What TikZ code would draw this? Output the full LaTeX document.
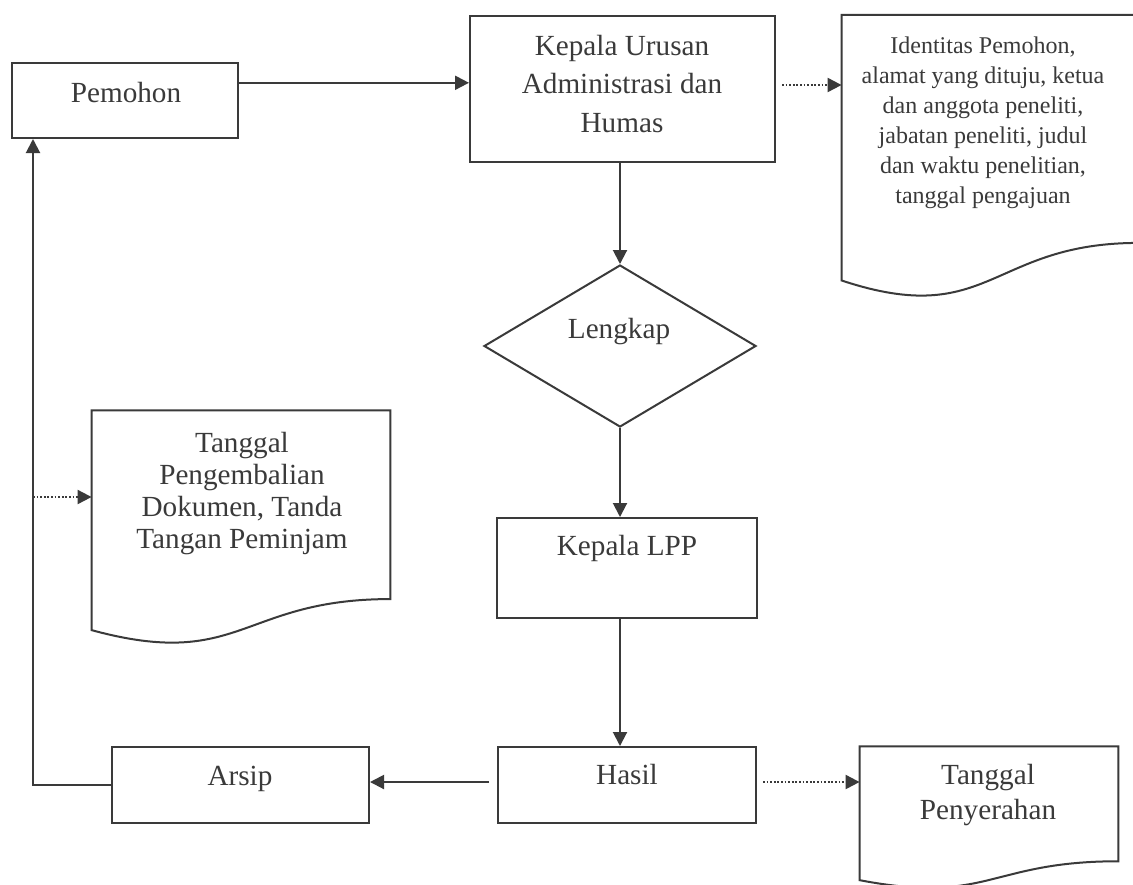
\documentclass[tikz,border=0pt]{standalone}
\usepackage{fontspec}
\setmainfont{Liberation Serif}
\usetikzlibrary{shapes.geometric,arrows.meta,calc}
\definecolor{ink}{HTML}{3A3A3A}
\newcommand{\docshape}[1]{%
  \draw[line] (#1.north west) -- (#1.north east)
    -- ($(#1.north east)!0.802!(#1.south east)$)
    .. controls ($(#1.north)!0.802!(#1.south)$) and ($(#1.north)!1.107!(#1.south)$)
    .. ($(#1.north west)!0.934!(#1.south west)$) -- cycle;}
\begin{document}
\begin{tikzpicture}[x=0.5pt,y=-0.5pt,
  line/.style={draw=ink, line width=1pt, line join=miter},
  box/.style={line, rectangle, inner sep=0pt},
  doc/.style={rectangle, inner sep=0pt, draw=none},
  decision/.style={line, diamond, inner sep=0pt},
  txt/.style={text=ink, inner sep=0pt, anchor=base, align=center, font=\fontsize{14.6}{19.25}\selectfont},
  arr/.style={line, -{Triangle[length=7pt,width=7pt]}},
  dotarr/.style={draw=ink, line width=1pt, dash pattern=on 0.9pt off 0.9pt, -{Triangle[length=7pt,width=7pt]}}]
\fill[white] (0,0) rectangle (1133,884);
\useasboundingbox (0,0) rectangle (1133,884);

\node[box, minimum width=113pt, minimum height=37.5pt] (pemohon) at (125,100.5) {};
\node[box, minimum width=152.5pt, minimum height=73pt] (kepala) at (622.5,89) {};
\node[doc, minimum width=148pt, minimum height=141.85pt] (identitas) at (990,157) {};
\node[decision, minimum width=136pt, minimum height=81pt] (lengkap) at (620,346) {};
\node[box, minimum width=130pt, minimum height=50pt] (lpp) at (627,568) {};
\node[doc, minimum width=149pt, minimum height=117.25pt] (pengembalian) at (241,528) {};
\node[box, minimum width=128.5pt, minimum height=38pt] (arsip) at (240.5,785) {};
\node[box, minimum width=129pt, minimum height=38pt] (hasil) at (627,785) {};
\node[doc, minimum width=129pt, minimum height=71.2pt] (penyerahan) at (989,818) {};
\docshape{identitas}
\docshape{pengembalian}
\docshape{penyerahan}

\node[txt] (pemohon-t) at (126,102) {Pemohon};
\node[txt] (kepala-t) at (622,132) {Kepala Urusan\\Administrasi dan\\Humas};
\node[txt, font=\fontsize{12}{15}\selectfont] (identitas-t) at (983,203) {Identitas Pemohon,\\alamat yang dituju, ketua\\dan anggota peneliti,\\jabatan peneliti, judul\\dan waktu penelitian,\\tanggal pengajuan};
\node[txt] (lengkap-t) at (619,338) {Lengkap};
\node[txt] (lpp-t) at (627,555) {Kepala LPP};
\node[txt, font=\fontsize{14.6}{16}\selectfont] (pengembalian-t) at (242,548) {Tanggal\\Pengembalian\\Dokumen, Tanda\\Tangan Peminjam};
\node[txt] (arsip-t) at (240,785) {Arsip};
\node[txt] (hasil-t) at (627,784) {Hasil};
\node[txt, font=\fontsize{14.6}{17.5}\selectfont] (penyerahan-t) at (988,819) {Tanggal\\Penyerahan};

\coordinate (p1) at ($(pemohon.north east)!0.27!(pemohon.south east)$);
\draw[arr] (p1) -- (p1 -| kepala.west);
\coordinate (k1) at ([yshift=2pt]kepala.east);
\draw[dotarr, shorten <=3pt] (k1) -- (k1 -| identitas.west);
\draw[arr] (kepala.south -| lengkap.north) -- (lengkap.north);
\draw[arr] (lengkap.south) -- (lengkap.south |- lpp.north);
\draw[arr] (lpp.south -| lengkap.south) -- (lengkap.south |- hasil.north);
\coordinate (h1) at ([yshift=1.5pt]hasil.west);
\draw[arr, shorten <=4pt] (h1) -- (h1 -| arsip.east);
\draw[dotarr, shorten <=3pt] (h1 -| hasil.east) -- (h1 -| penyerahan.west);
\coordinate (bend) at (33,785);
\draw[arr] (arsip.west) -- (bend) -- (bend |- pemohon.south);
\coordinate (tap) at (33,497);
\draw[dotarr] (tap) -- (tap -| pengembalian.west);
\end{tikzpicture}
\end{document}
